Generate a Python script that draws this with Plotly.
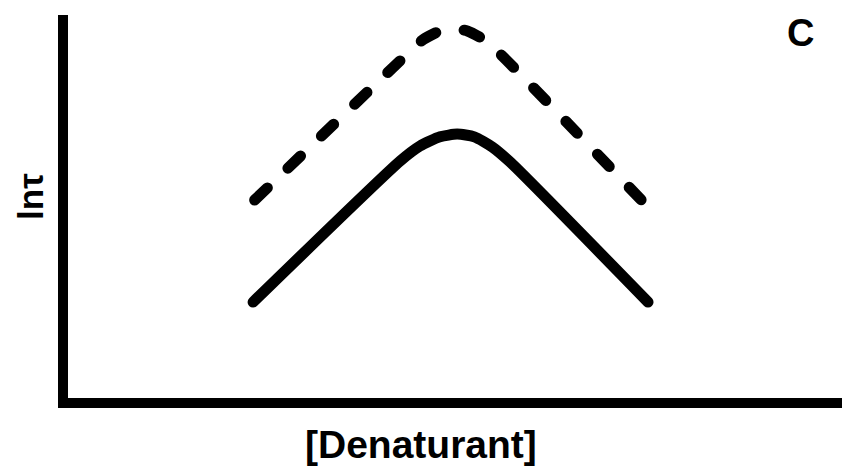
import plotly.graph_objects as go

# Solid curve (lower chevron), data units (x: 0-100, y: 0-100)
solid_x = [24.4, 43.3, 45.8, 48.4, 50.6, 52.8, 55.1, 57.4, 75.1]
solid_y = [26.0, 62.4, 66.2, 68.6, 69.3, 68.6, 66.0, 62.1, 26.0]

# Dashed curve (upper chevron)
dash_x = [24.6, 43.9, 46.2, 48.4, 50.1, 51.9, 53.9, 56.1, 75.1]
dash_y = [52.3, 89.4, 93.6, 95.9, 96.4, 95.9, 93.8, 90.0, 50.5]

x_label = "[Denaturant]"
y_label = "lnτ"
panel_label = "C"

FONT = "Liberation Sans, Arial, sans-serif"

fig = go.Figure()
fig.add_trace(go.Scatter(x=dash_x, y=dash_y, mode="lines",
                         line=dict(color="black", width=11, dash="17px,29px", shape="spline", smoothing=0.6),
                         hoverinfo="skip"))
fig.add_trace(go.Scatter(x=solid_x, y=solid_y, mode="lines",
                         line=dict(color="black", width=11, shape="spline", smoothing=0.6),
                         hoverinfo="skip"))

fig.update_layout(
    width=851, height=476,
    margin=dict(l=60, r=17, t=7, b=86),
    paper_bgcolor="white", plot_bgcolor="white",
    showlegend=False,
    xaxis=dict(range=[0.64, 100], showline=True, linecolor="black", linewidth=10,
               showgrid=False, zeroline=False, showticklabels=False, ticks=""),
    yaxis=dict(range=[1.29, 100], showline=True, linecolor="black", linewidth=10,
               showgrid=False, zeroline=False, showticklabels=False, ticks=""),
    annotations=[
        dict(text="<b>" + x_label + "</b>", xref="paper", yref="paper", x=0.456, y=-0.1227,
             showarrow=False, font=dict(family=FONT, size=39, color="black"),
             xanchor="center", yanchor="middle"),
        dict(text="<b>" + y_label + "</b>", xref="paper", yref="paper", x=-0.0478, y=0.525,
             showarrow=False, textangle=-90, borderpad=0,
             font=dict(family=FONT, size=35, color="black"),
             xanchor="center", yanchor="middle"),
        dict(text="<b>" + panel_label + "</b>", xref="paper", yref="paper", x=0.946, y=0.953,
             showarrow=False, font=dict(family=FONT, size=38, color="black"),
             xanchor="center", yanchor="middle"),
    ],
)

round_caps = (
    "document.querySelectorAll('.scatterlayer path.js-line')"
    ".forEach(function(p){p.style.strokeLinecap='round';});"
)

fig.write_html("out.html", post_script=round_caps)
